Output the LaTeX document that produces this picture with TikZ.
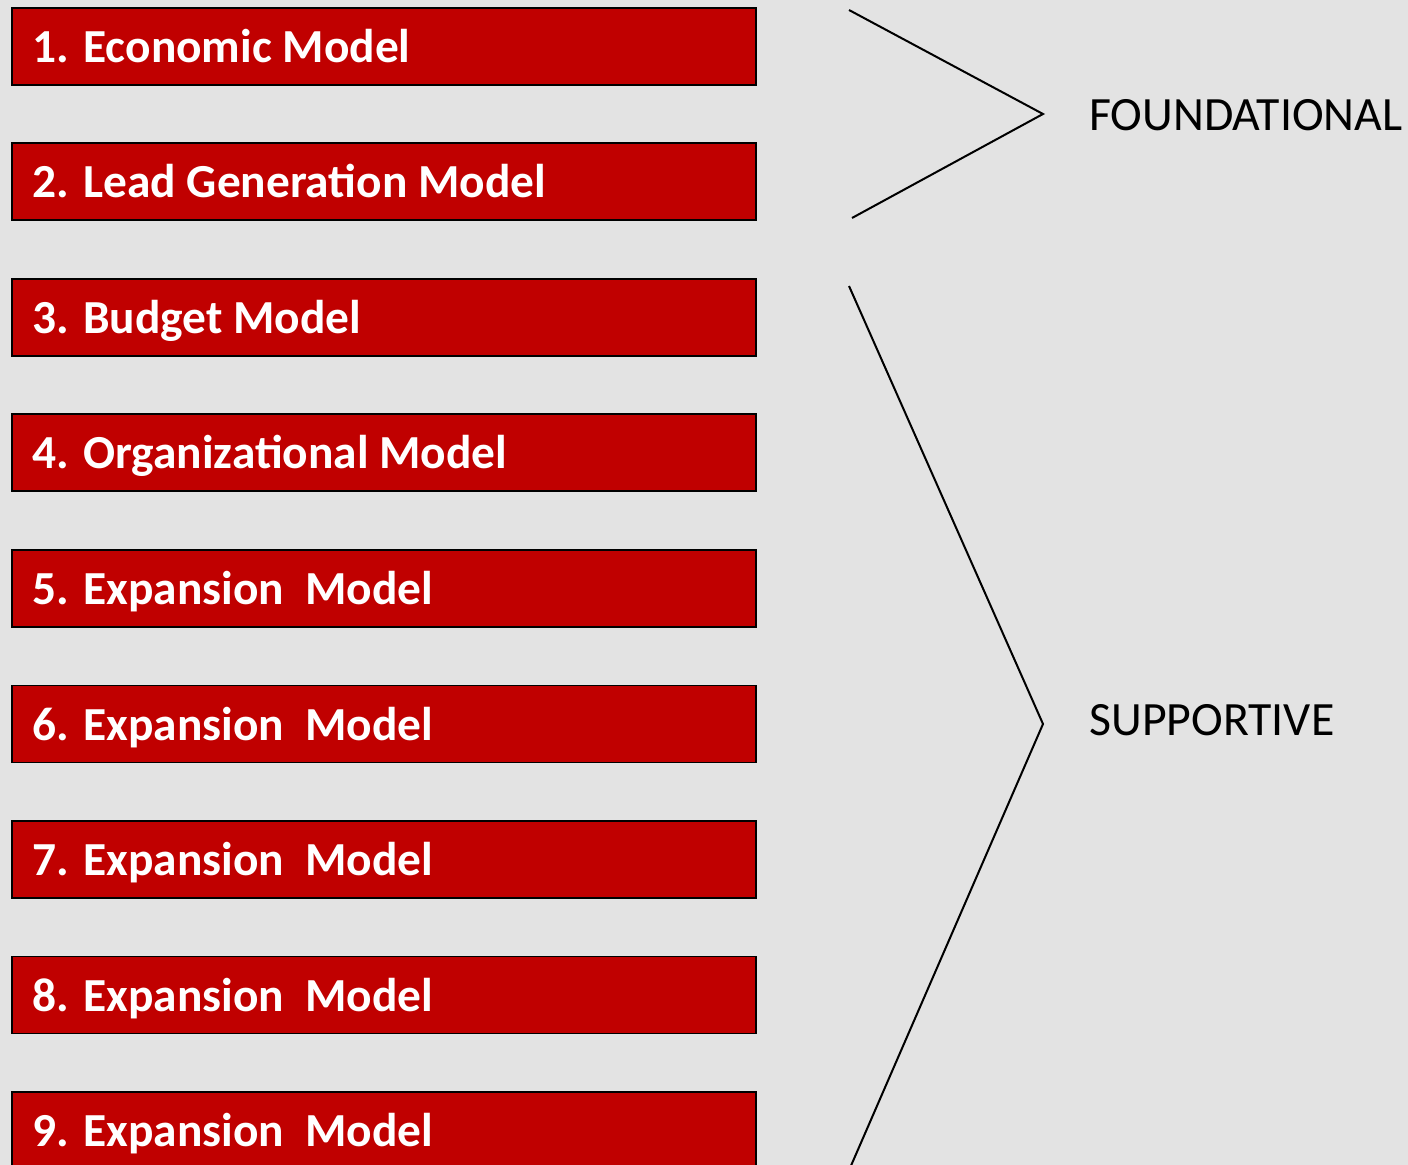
\documentclass[tikz,border=0pt]{standalone}
\usepackage{fontspec}
\setmainfont{Carlito}
\definecolor{boxred}{HTML}{C00000}
\definecolor{slidegray}{HTML}{E3E3E3}

\begin{document}
\begin{tikzpicture}
      [%%%%%%%%%%%%%%%%%%%%%%%%%%%%%%
      x=0.5pt,y=-0.5pt,
      box/.style={rectangle,draw=black,line width=0.9pt,fill=boxred,anchor=north west,inner sep=0pt,minimum width=372pt,minimum height=38.5pt},
      boxtext/.style={anchor=base west,inner sep=0pt,text=white,font=\fontsize{23.7}{28}\selectfont\bfseries},
      grouptext/.style={anchor=base west,inner sep=0pt,font=\fontsize{23.9}{28}\selectfont},
      bracket/.style={draw=black,line width=1pt},
      ]%%%%%%%%%%%%%%%%%%%%%%%%%%%%%%

      \fill[slidegray] (0,0) rectangle (1408,1165);
      \useasboundingbox (0,0) rectangle (1408,1165);
      \clip (0,0) rectangle (1408,1165);

      \node[box] (b1) at (11,7){};
      \node[box] (b2) at (11,142.5){};
      \node[box] (b3) at (11,278){};
      \node[box] (b4) at (11,413.5){};
      \node[box] (b5) at (11,549){};
      \node[box] (b6) at (11,684.5){};
      \node[box] (b7) at (11,820){};
      \node[box] (b8) at (11,955.5){};
      \node[box] (b9) at (11,1091){};

      \node[boxtext] (t1) at (32,62.5){1. Economic Model};
      \node[boxtext] (t2) at (32,198){2. Lead Generation Model};
      \node[boxtext] (t3) at (32,333.5){3. Budget Model};
      \node[boxtext] (t4) at (32,469){4. Organizational Model};
      \node[boxtext] (t5) at (32,604.5){5. Expansion~~Model};
      \node[boxtext] (t6) at (32,740){6. Expansion~~Model};
      \node[boxtext] (t7) at (32,875.5){7. Expansion~~Model};
      \node[boxtext] (t8) at (32,1011){8. Expansion~~Model};
      \node[boxtext] (t9) at (32,1146.5){9. Expansion~~Model};

      \coordinate (ftop) at (849,10);
      \coordinate (ftip) at (1043,114);
      \coordinate (fbot) at (852,218);
      \coordinate (stop) at (849,286);
      \coordinate (stip) at (1043,724);
      \coordinate (sbot) at (850,1168);

      \draw[bracket] (ftop) -- (ftip) -- (fbot);
      \draw[bracket] (stop) -- (stip) -- (sbot);

      \node[grouptext] (found) at (1089,131){FOUNDATIONAL};
      \node[grouptext] (supp) at (1089,735){SUPPORTIVE};
    \end{tikzpicture}
\end{document}
